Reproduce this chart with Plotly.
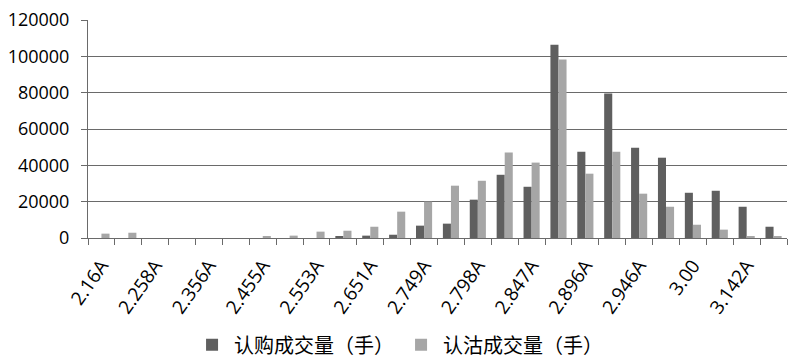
import plotly.graph_objects as go

categories = ["2.16A", "2.209A", "2.258A", "2.307A", "2.356A", "2.405A", "2.455A", "2.504A",
              "2.553A", "2.602A", "2.651A", "2.70A", "2.749A", "2.75", "2.798A", "2.80",
              "2.847A", "2.85", "2.896A", "2.90", "2.946A", "2.95", "3.00", "3.10",
              "3.142A", "3.20"]
call_volume = [0, 0, 0, 0, 0, 0, 0, 0,
               0, 700, 1300, 1800, 6800, 7900, 21100, 34800,
               28200, 106400, 47500, 79600, 49700, 44200, 24900, 26000,
               17200, 6200]
put_volume = [2400, 2900, 0, 0, 0, 0, 700, 1300,
              3500, 4000, 6200, 14500, 20000, 28800, 31500, 47000,
              41500, 98200, 35400, 47500, 24400, 17200, 7300, 4600,
              700, 700]
# labels shown on every other category
label_idx = list(range(0, len(categories), 2))
labels = ["2.16A", "2.258A", "2.356A", "2.455A", "2.553A", "2.651A", "2.749A",
          "2.798A", "2.847A", "2.896A", "2.946A", "3.00", "3.142A"]

xpos = list(range(len(categories)))
grid = "#6a6a6a"

fig = go.Figure()
fig.add_trace(go.Bar(x=xpos, y=call_volume, name="认购成交量（手）",
                     marker=dict(color="#5f5f5f", line=dict(width=0)),
                     customdata=categories))
fig.add_trace(go.Bar(x=xpos, y=put_volume, name="认沽成交量（手）",
                     marker=dict(color="#a6a6a6", line=dict(width=0)),
                     customdata=categories))

fig.update_layout(
    width=790, height=362,
    margin=dict(l=88, r=3, t=20, b=124, autoexpand=False),
    paper_bgcolor="white", plot_bgcolor="white",
    barmode="group", bargap=0.4, bargroupgap=0,
    font=dict(family="Open Sans, Noto Sans CJK SC", size=18, color="#000000"),
    showlegend=True,
    legend=dict(orientation="h", x=0.445, xanchor="center", y=-0.49, yanchor="middle",
                font=dict(family="Noto Sans CJK SC", size=20, color="#000000"),
                itemwidth=34, tracegroupgap=0),
)
fig.update_xaxes(
    range=[-0.5, len(categories) - 0.5],
    tickmode="array", tickvals=label_idx, ticktext=labels,
    tickangle=-55, ticks="", showgrid=False,
    showline=True, linecolor=grid, linewidth=1,
    minor=dict(tickmode="linear", tick0=-0.5, dtick=1, ticks="outside",
               ticklen=6, tickcolor=grid, tickwidth=1, showgrid=False),
    tickfont=dict(size=19), automargin=False, zeroline=False,
    ticklabelstandoff=8,
)
fig.update_yaxes(
    range=[0, 120000], dtick=20000, tickformat="d",
    showgrid=True, gridcolor=grid, gridwidth=1,
    showline=True, linecolor=grid, linewidth=1,
    ticks="outside", ticklen=6, tickcolor=grid,
    zeroline=False, automargin=False, tickfont=dict(size=18),
    ticklabelstandoff=8,
)

fig.write_html("out.html", config={"displayModeBar": False},
               post_script="document.body.style.margin='0';")
